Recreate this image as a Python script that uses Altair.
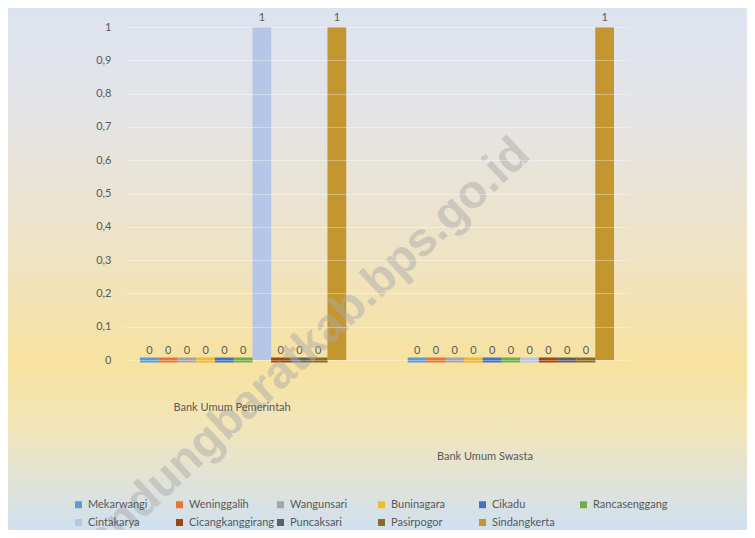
import altair as alt
import pandas as pd

groups = ["Bank Umum Pemerintah", "Bank Umum Swasta"]
series = ["Mekarwangi", "Weninggalih", "Wangunsari", "Buninagara", "Cikadu",
          "Rancasenggang", "Cintakarya", "Cicangkanggirang", "Puncaksari",
          "Pasirpogor", "Sindangkerta"]
pemerintah = [0, 0, 0, 0, 0, 0, 1, 0, 0, 0, 1]
swasta = [0, 0, 0, 0, 0, 0, 0, 0, 0, 0, 1]
colors = ["#5b9bd5", "#e2773a", "#a5a5a5", "#f2b92e", "#4472c4", "#70ad47",
          "#b6c6e6", "#9e480e", "#5f6066", "#8b6a24", "#c4962f"]
y_ticks = [0, 0.1, 0.2, 0.3, 0.4, 0.5, 0.6, 0.7, 0.8, 0.9, 1]
watermark = ["bandungbaratkab.bps.go.id"]

rows = []
for g, vals in zip(groups, [pemerintah, swasta]):
    for s, v in zip(series, vals):
        rows.append({"group": g, "series": s, "value": v})
df = pd.DataFrame(rows)

W, H = 504, 333
PL, PT, PR, PB = 117, 19, 118, 170
FONT = "Lato"
GRAY = "#595959"

bg = alt.Chart(alt.Data(values=[{}])).mark_rect(
    fill=alt.LinearGradient(
        gradient="linear", x1=0, x2=0, y1=0, y2=1,
        stops=[
            alt.GradientStop(color="#dde3ef", offset=0),
            alt.GradientStop(color="#e3e4e8", offset=0.18),
            alt.GradientStop(color="#eee3c6", offset=0.46),
            alt.GradientStop(color="#f8e2a0", offset=0.68),
            alt.GradientStop(color="#f2e5b8", offset=0.80),
            alt.GradientStop(color="#e2e3d6", offset=0.90),
            alt.GradientStop(color="#d0e0ef", offset=1.0),
        ],
    )
).encode(
    x=alt.value(-PL), x2=alt.value(W + PR),
    y=alt.value(-PT), y2=alt.value(H + PB),
)

wm = alt.Chart(pd.DataFrame({"t": watermark})).mark_text(
    font="Liberation Sans", fontWeight="bold", fontSize=47, angle=317,
    fill="#aaaaaa", opacity=0.48, align="center", baseline="middle",
).encode(x=alt.value(172), y=alt.value(330), text="t:N")

base = alt.Chart(df).encode(
    x=alt.X("group:N", sort=groups, title=None,
            scale=alt.Scale(paddingInner=0.23, paddingOuter=0.056),
            axis=alt.Axis(
                labelFont=FONT, labelFontSize=11, labelColor=GRAY, labelAngle=0,
                domain=False, ticks=False, grid=False, zindex=1,
                labelPadding={"condition": {"test": "datum.value === 'Bank Umum Swasta'", "value": 90}, "value": 41},
                labelOffset={"condition": {"test": "datum.value === 'Bank Umum Swasta'", "value": -26}, "value": -11},
            )),
    xOffset=alt.XOffset("series:N", sort=series),
)

yenc = alt.Y("value:Q", title=None,
             scale=alt.Scale(domain=[0, 1], nice=False),
             axis=alt.Axis(values=y_ticks,
                           format="~g", labelExpr="replace(datum.label, '.', ',')",
                           labelOverlap=False,
                           labelFont=FONT, labelFontSize=11, labelColor=GRAY,
                           labelPadding=14, domain=False, ticks=False,
                           gridColor="#ffffff", gridOpacity=0.35, zindex=1))

color = alt.Color("series:N", sort=series,
                  scale=alt.Scale(domain=series, range=colors),
                  legend=alt.Legend(
                      title=None, orient="none", legendX=-52, legendY=472,
                      direction="horizontal", columns=6, gridAlign="all",
                      columnPadding=0, rowPadding=6,
                      symbolType="square", symbolSize=49, symbolStrokeWidth=0,
                      symbolOpacity=1,
                      labelFont=FONT, labelFontSize=11, labelColor=GRAY,
                      labelOffset=4, labelLimit=200))

bars = base.mark_bar(opacity=1).encode(y=yenc, color=color)

tiles = base.transform_filter("datum.value == 0").mark_tick(
    thickness=5, size=19, orient="horizontal", opacity=1
).encode(y=yenc, color=color)

labels = base.mark_text(dy=-9, font=FONT, fontSize=11, color=GRAY).encode(
    y=yenc, text=alt.Text("value:Q", format="d"))

chart = alt.layer(bg, bars, tiles, labels, wm).properties(
    width=W, height=H,
    autosize=alt.AutoSizeParams(type="none"),
    padding={"left": PL, "top": PT, "right": PR, "bottom": PB},
).configure_view(strokeWidth=0)

chart.save("out.html", embed_options={"renderer": "svg", "actions": False})
